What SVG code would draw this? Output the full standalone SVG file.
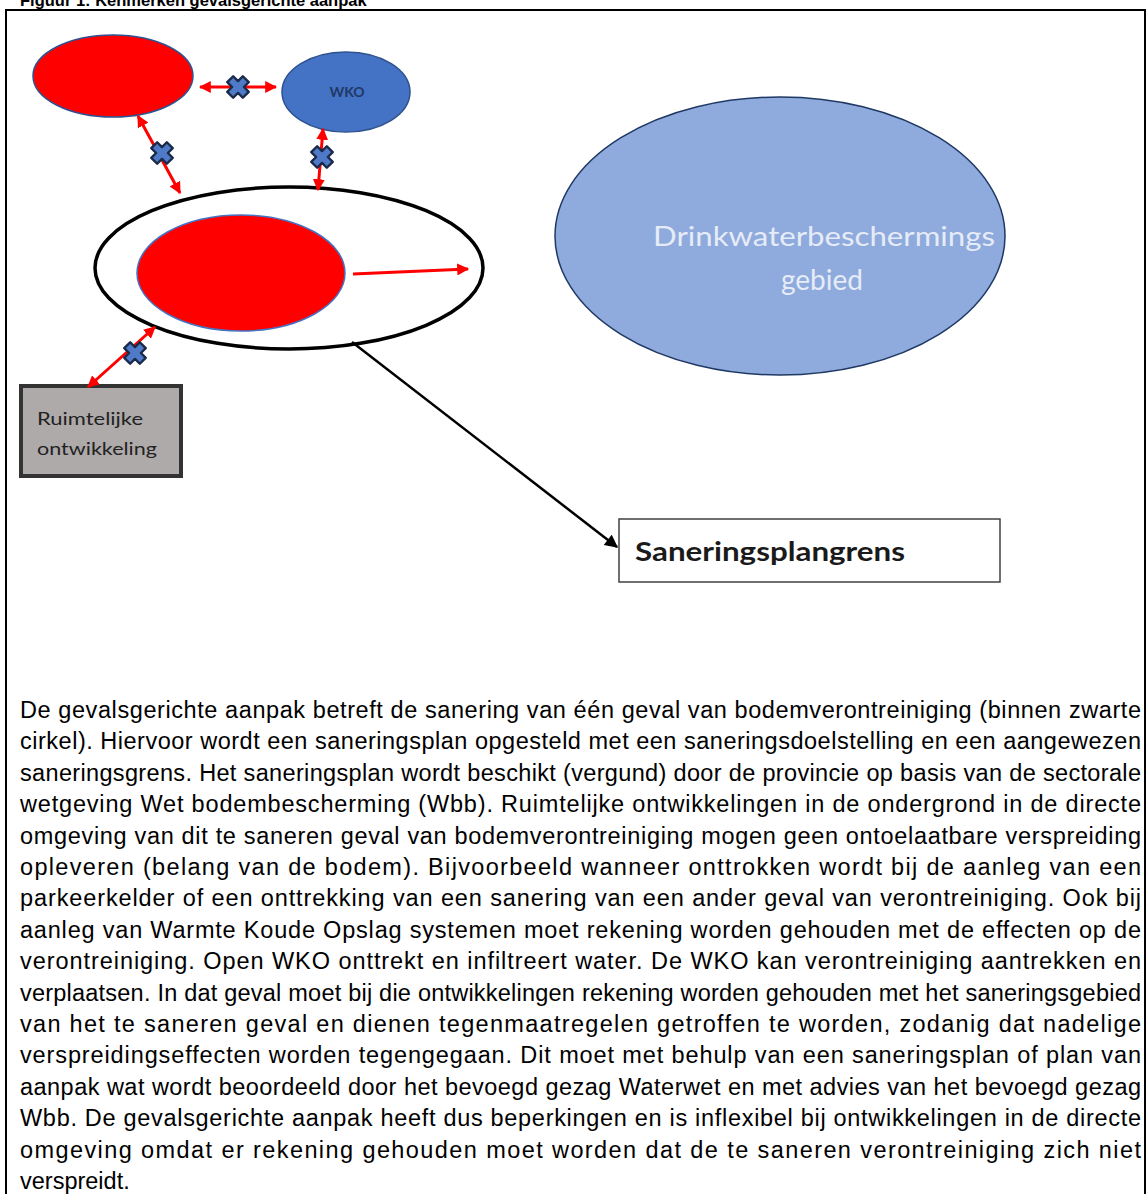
<svg xmlns="http://www.w3.org/2000/svg" width="1147" height="1194" viewBox="0 0 1147 1194">
<style>
.body{font-family:"Liberation Sans",Arial,sans-serif;font-size:23.5px;fill:#000}
.lbl{font-family:Lato,"Open Sans",sans-serif}
.red{stroke:#ff0000;stroke-width:3;fill:none}
</style>
<defs>
<marker id="rh" viewBox="0 0 10 10" refX="9" refY="5" markerWidth="12" markerHeight="12" markerUnits="userSpaceOnUse" orient="auto-start-reverse">
<path d="M0,0 L10,5 L0,10 z" fill="#ff0000"/>
</marker>
<marker id="bh" viewBox="0 0 10 10" refX="9" refY="5" markerWidth="15" markerHeight="13" markerUnits="userSpaceOnUse" orient="auto">
<path d="M0,0 L10,5 L0,10 z" fill="#000"/>
</marker>
<polygon id="xm" points="-3.8,-10 3.8,-10 3.8,-3.8 10,-3.8 10,3.8 3.8,3.8 3.8,10 -3.8,10 -3.8,3.8 -10,3.8 -10,-3.8 -3.8,-3.8" transform="rotate(45) scale(1.1)" fill="#4f7ac7" stroke="#1a2a4a" stroke-width="2.2" stroke-linejoin="round"/>
</defs>
<rect width="1147" height="1194" fill="#fff"/>
<text x="20" y="5.5" font-family="Liberation Sans,Arial,sans-serif" font-size="16.5" font-weight="bold">Figuur 1: Kenmerken gevalsgerichte aanpak</text>
<rect x="6" y="10" width="1139" height="1200" fill="none" stroke="#000" stroke-width="2"/>

<g id="drinkwater">
<ellipse cx="780" cy="236" rx="225" ry="139" fill="#8faadc" stroke="#1f3864" stroke-width="1.5"/>
<text class="lbl" x="824" y="246" font-size="27" fill="#e6ecf7" text-anchor="middle" textLength="342" lengthAdjust="spacingAndGlyphs">Drinkwaterbeschermings</text>
<text class="lbl" x="822" y="290" font-size="28" fill="#e6ecf7" text-anchor="middle">gebied</text>
</g>

<g id="verontreiniging-1">
<ellipse cx="113" cy="76" rx="80" ry="41" fill="#ff0000" stroke="#2f528f" stroke-width="1.5"/>
</g>

<g id="wko">
<ellipse cx="346" cy="92" rx="64" ry="40" fill="#4472c4" stroke="#2f528f" stroke-width="1.5"/>
<text class="lbl" x="347" y="97" font-size="14" font-weight="bold" fill="#1f3864" text-anchor="middle">WKO</text>
</g>

<g id="saneringsgeval">
<ellipse cx="289" cy="268" rx="194" ry="81" fill="#fff" stroke="#000" stroke-width="3.5"/>
<ellipse cx="241" cy="273" rx="104" ry="58" fill="#ff0000" stroke="#4472c4" stroke-width="1.5"/>
</g>

<g id="ruimtelijke">
<rect x="21" y="386" width="160" height="90" fill="#aeaaaa" stroke="#333" stroke-width="4"/>
<text class="lbl" x="37" y="425" font-size="17.5" fill="#222" textLength="106" lengthAdjust="spacingAndGlyphs">Ruimtelijke</text>
<text class="lbl" x="37" y="455" font-size="17.5" fill="#222" textLength="120" lengthAdjust="spacingAndGlyphs">ontwikkeling</text>
</g>

<g id="saneringsplangrens">
<rect x="619" y="519" width="381" height="63" fill="#fff" stroke="#404040" stroke-width="1.5"/>
<text class="lbl" x="635" y="561" font-size="27" font-weight="bold" fill="#1a1a1a" textLength="270" lengthAdjust="spacingAndGlyphs">Saneringsplangrens</text>
</g>

<g id="connectors">
<line class="red" x1="200" y1="87" x2="276" y2="87" marker-start="url(#rh)" marker-end="url(#rh)"/>
<line class="red" x1="138" y1="116" x2="180" y2="193" marker-start="url(#rh)" marker-end="url(#rh)"/>
<line class="red" x1="323" y1="129" x2="318" y2="190" marker-start="url(#rh)" marker-end="url(#rh)"/>
<line class="red" x1="155" y1="327" x2="88" y2="387" marker-start="url(#rh)" marker-end="url(#rh)"/>
<line class="red" x1="353" y1="274" x2="468" y2="269" marker-end="url(#rh)"/>
<line x1="352" y1="342" x2="617" y2="547" stroke="#000" stroke-width="2.5" marker-end="url(#bh)"/>
<use href="#xm" x="238" y="87"/>
<use href="#xm" x="162" y="153"/>
<use href="#xm" x="322" y="157"/>
<use href="#xm" x="135" y="353"/>
</g>

<g id="tekst" class="body">
<text x="20" y="718" textLength="1121" lengthAdjust="spacing">De gevalsgerichte aanpak betreft de sanering van één geval van bodemverontreiniging (binnen zwarte</text>
<text x="20" y="749.4" textLength="1121" lengthAdjust="spacing">cirkel). Hiervoor wordt een saneringsplan opgesteld met een saneringsdoelstelling en een aangewezen</text>
<text x="20" y="780.8" textLength="1121" lengthAdjust="spacing">saneringsgrens. Het saneringsplan wordt beschikt (vergund) door de provincie op basis van de sectorale</text>
<text x="20" y="812.2" textLength="1121" lengthAdjust="spacing">wetgeving Wet bodembescherming (Wbb). Ruimtelijke ontwikkelingen in de ondergrond in de directe</text>
<text x="20" y="843.6" textLength="1121" lengthAdjust="spacing">omgeving van dit te saneren geval van bodemverontreiniging mogen geen ontoelaatbare verspreiding</text>
<text x="20" y="875" textLength="1121" lengthAdjust="spacing">opleveren (belang van de bodem). Bijvoorbeeld wanneer onttrokken wordt bij de aanleg van een</text>
<text x="20" y="906.4" textLength="1121" lengthAdjust="spacing">parkeerkelder of een onttrekking van een sanering van een ander geval van verontreiniging. Ook bij</text>
<text x="20" y="937.8" textLength="1121" lengthAdjust="spacing">aanleg van Warmte Koude Opslag systemen moet rekening worden gehouden met de effecten op de</text>
<text x="20" y="969.2" textLength="1121" lengthAdjust="spacing">verontreiniging. Open WKO onttrekt en infiltreert water. De WKO kan verontreiniging aantrekken en</text>
<text x="20" y="1000.6" textLength="1121" lengthAdjust="spacing">verplaatsen. In dat geval moet bij die ontwikkelingen rekening worden gehouden met het saneringsgebied</text>
<text x="20" y="1032" textLength="1121" lengthAdjust="spacing">van het te saneren geval en dienen tegenmaatregelen getroffen te worden, zodanig dat nadelige</text>
<text x="20" y="1063.4" textLength="1121" lengthAdjust="spacing">verspreidingseffecten worden tegengegaan. Dit moet met behulp van een saneringsplan of plan van</text>
<text x="20" y="1094.8" textLength="1121" lengthAdjust="spacing">aanpak wat wordt beoordeeld door het bevoegd gezag Waterwet en met advies van het bevoegd gezag</text>
<text x="20" y="1126.2" textLength="1121" lengthAdjust="spacing">Wbb. De gevalsgerichte aanpak heeft dus beperkingen en is inflexibel bij ontwikkelingen in de directe</text>
<text x="20" y="1157.6" textLength="1121" lengthAdjust="spacing">omgeving omdat er rekening gehouden moet worden dat de te saneren verontreiniging zich niet</text>
<text x="20" y="1189">verspreidt.</text>
</g>
</svg>
